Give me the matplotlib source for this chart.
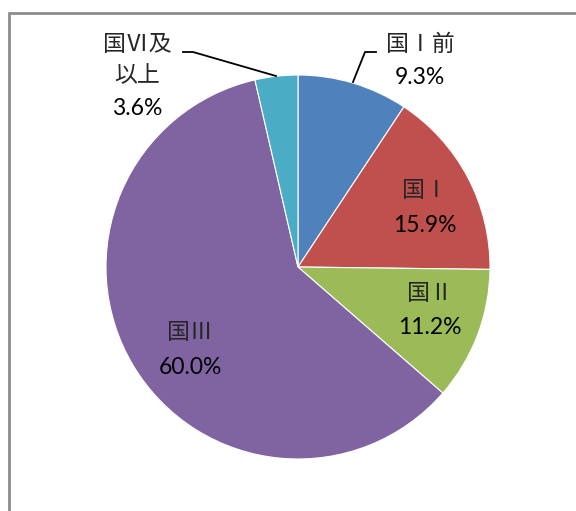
import matplotlib
matplotlib.use("Agg")
import matplotlib.pyplot as plt
from matplotlib.patches import Rectangle

kategori = ["国Ⅰ前", "国Ⅰ", "国Ⅱ", "国Ⅲ", "国Ⅵ及\n以上"]
persen = [9.3, 15.9, 11.2, 60.0, 3.6]
warna = ["#4F81BD", "#C0504D", "#9BBB59", "#8064A2", "#4BACC6"]

W, H = 576, 511
cx, cy, r = 298, 267, 192


def ke_data(px, py):
    return (px - cx) / r, (cy - py) / r


fig = plt.figure(figsize=(W / 100, H / 100), dpi=100)
ax = fig.add_axes([(cx - r) / W, (H - cy - r) / H, 2 * r / W, 2 * r / H])
ax.pie(persen, colors=warna, startangle=90, counterclock=False, radius=1,
       wedgeprops=dict(linewidth=0.8, edgecolor="white"))
ax.set_xlim(-1, 1)
ax.set_ylim(-1, 1)
ax.set_aspect("auto")
ax.axis("off")

font_kat = ["Noto Sans CJK JP", "DejaVu Sans"]
font_pct = ["Lato", "DejaVu Sans"]

# posisi label (piksel): baris kategori dan baris persen
posisi = [
    ([(420, 44)], (420, 77)),
    ([(425, 190)], (425, 225)),
    ([(430, 293)], (430, 327)),
    ([(190, 332)], (190, 367)),
    ([(137, 44), (137, 76)], (137, 108)),
]

for nama, nilai, (pos_kat, pos_pct) in zip(kategori, persen, posisi):
    for baris, (px, py) in zip(nama.split("\n"), pos_kat):
        x, y = ke_data(px, py)
        ax.text(x, y, baris, ha="center", va="center", fontsize=16.5,
                family=font_kat, color="#262626", clip_on=False)
    x, y = ke_data(*pos_pct)
    ax.text(x, y, f"{nilai:.1f}%", ha="center", va="center", fontsize=16.5,
            family=font_pct, color="black", clip_on=False)

# garis penunjuk
for titik in ([(353, 82), (365, 52), (376, 52)], [(183, 52), (193, 52), (276, 76)]):
    xs, ys = zip(*[ke_data(px, py) for px, py in titik])
    ax.plot(xs, ys, color="black", lw=1.3, clip_on=False)

# bingkai abu-abu
fig.patches.append(Rectangle((9 / W, -0.2), 1.2, (H - 13) / H + 0.2,
                             transform=fig.transFigure, fill=False,
                             edgecolor="#8c8c8c", linewidth=2))

fig.savefig("out.png", dpi=100)
